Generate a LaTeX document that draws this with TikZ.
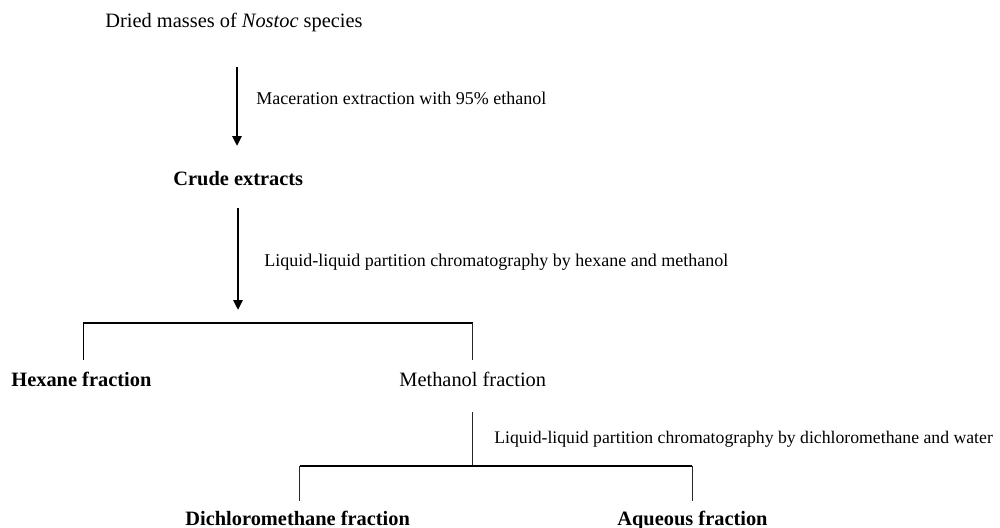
\documentclass[tikz,border=0pt]{standalone}
\usepackage{fontspec}
\setmainfont{Liberation Serif}
\usetikzlibrary{arrows.meta}
\begin{document}
\begin{tikzpicture}[x=0.5pt,y=-0.5pt,
  lbl/.style={inner sep=0pt,anchor=base west,font=\fontsize{10.2}{12}\selectfont},
  blbl/.style={lbl,font=\fontsize{10.2}{12}\selectfont\bfseries},
  slbl/.style={lbl,font=\fontsize{9}{11}\selectfont},
  flowarrow/.style={line width=1.3pt,-{Triangle[width=4.5pt,length=5pt]}},
  bracket/.style={line width=0.7pt},
  thinline/.style={line width=0.55pt,black!85}]
\useasboundingbox (0,0) rectangle (1000,527);
\node[lbl] (dried) at (105,27) {Dried masses of \textit{Nostoc} species};
\node[slbl] (mac) at (256,104.5) {Maceration extraction with 95\% ethanol};
\node[blbl] (crude) at (173,185) {Crude extracts};
\node[slbl] (liq1) at (264,266) {Liquid-liquid partition chromatography by hexane and methanol};
\node[blbl] (hex) at (11,386) {Hexane fraction};
\node[lbl] (meth) at (399,386) {Methanol fraction};
\node[slbl,font=\fontsize{8.85}{11}\selectfont] (liq2) at (494,443) {Liquid-liquid partition chromatography by dichloromethane and water};
\node[blbl] (dcm) at (185,525) {Dichloromethane fraction};
\node[blbl] (aq) at (617,525) {Aqueous fraction};
\coordinate (a1s) at (237,67);
\coordinate (a1e) at (237,146);
\coordinate (a2s) at (238,208);
\coordinate (a2e) at (238,310);
\coordinate (b1) at (0,323);
\coordinate (t1) at (0,360);
\coordinate (m2) at (0,412);
\coordinate (b2) at (0,466);
\coordinate (t2) at (0,501);
\draw[flowarrow] (a1s) -- (a1e);
\draw[flowarrow] (a2s) -- (a2e);
\draw[bracket] ([xshift=1pt]hex.north |- t1) -- ([xshift=1pt]hex.north |- b1) -- (meth.north |- b1);
\draw[thinline] (meth.north |- b1) -- (meth.north |- t1);
\draw[thinline] (meth.north |- m2) -- (meth.north |- b2);
\draw[bracket] ([xshift=1pt]dcm.north |- b2) -- (aq.north |- b2);
\draw[thinline] ([xshift=1pt]dcm.north |- b2) -- ([xshift=1pt]dcm.north |- t2);
\draw[thinline] (aq.north |- b2) -- (aq.north |- t2);
\end{tikzpicture}
\end{document}
